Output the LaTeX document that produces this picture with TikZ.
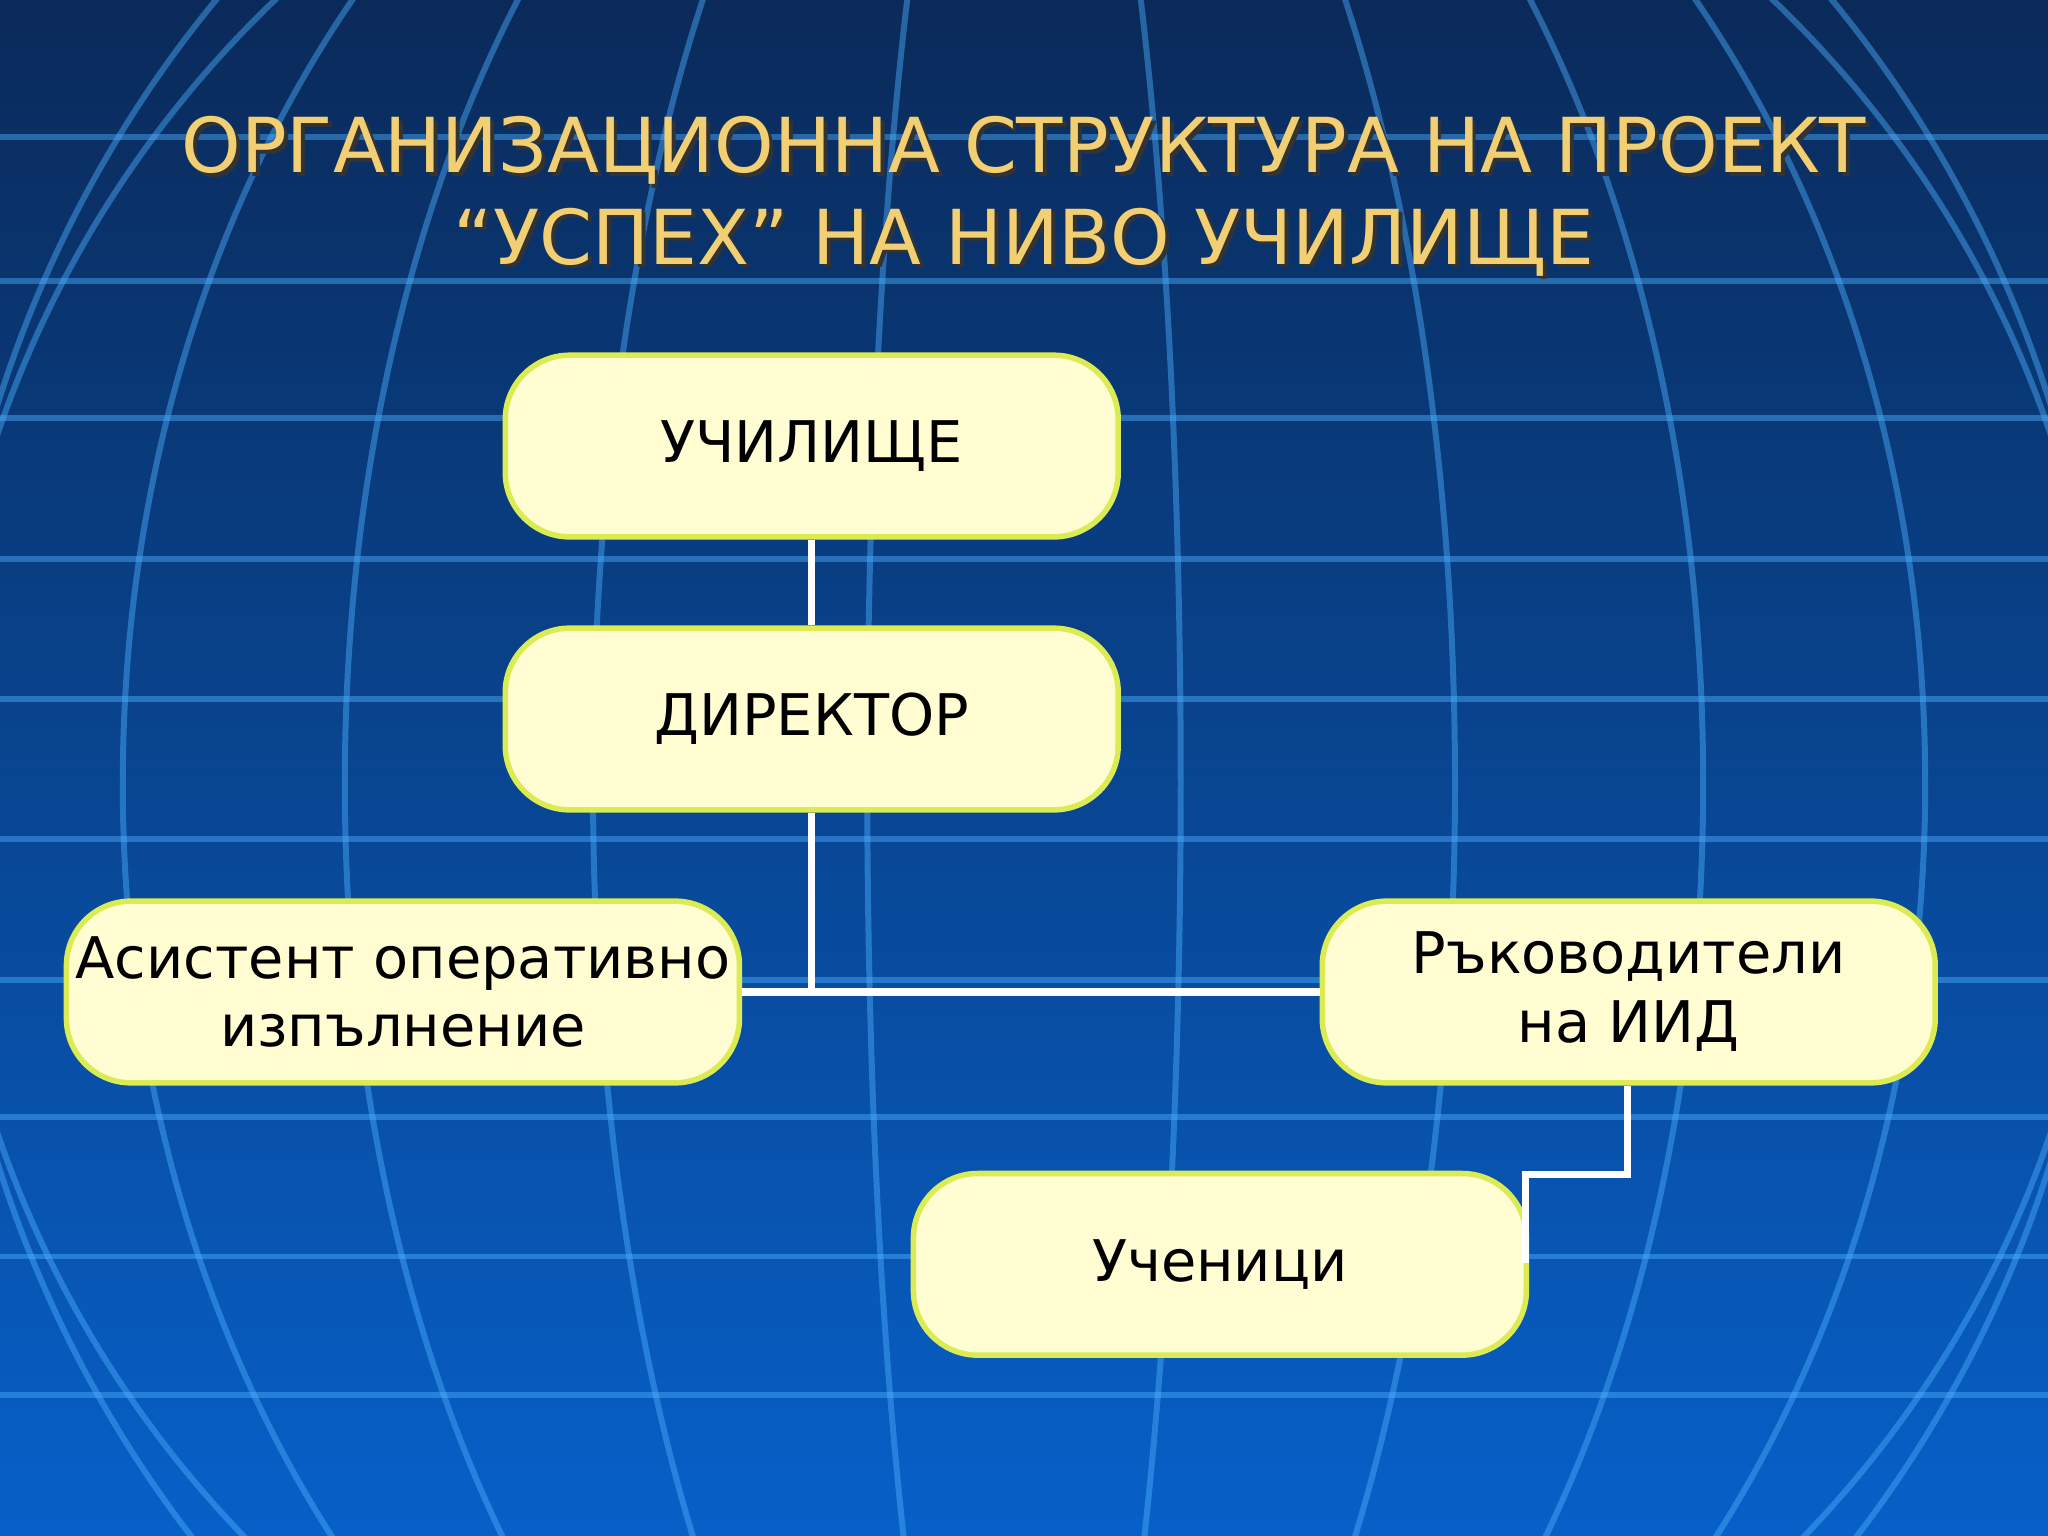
\documentclass[tikz,border=0pt]{standalone}
\usepackage{fontspec}
\setmainfont{DejaVu Sans}
\begin{document}
\begin{tikzpicture}[x=0.01cm,y=-0.01cm,
  box/.style={draw=yellow!80!green!70!white, line width=1.2pt, fill=yellow!18!white, rounded corners=14pt, minimum width=4.69cm, minimum height=1.39cm, align=center, font=\fontsize{12.5}{15}\selectfont, inner sep=2pt},
  conn/.style={draw=white, line width=1.6pt},
  grid/.style={draw=blue!45!cyan!70!white, opacity=0.45, line width=1.3pt}]
\definecolor{topc}{HTML}{0A2A5A}
\definecolor{botc}{HTML}{0760C8}
\definecolor{gold}{HTML}{F2CF73}
\shade[top color=topc, bottom color=botc] (0,0) rectangle (1568,1176);
\useasboundingbox (0,0) rectangle (1568,1176);
\begin{scope}
\clip (0,0) rectangle (1568,1176);
\foreach \y in {105,215,320,428,535,642,750,855,962,1068}
  \draw[grid] (0,\y) -- (1568,\y);
\foreach \r in {120,330,520,690,830}
  \draw[grid] (784,600) ellipse ({\r} and 900);
\draw[grid] (784,600) circle (830);
\end{scope}
% title
\foreach \dx/\dy/\c in {3/3/black!80, 0/0/gold}
  \node[text=\c, align=center, font=\fontsize{16.5}{20}\selectfont] at (784+\dx,150+\dy)
    {ОРГАНИЗАЦИОННА СТРУКТУРА НА ПРОЕКТ\\“УСПЕХ” НА НИВО УЧИЛИЩЕ};
\node[box] (s) at (621.5,341.5) {УЧИЛИЩЕ};
\node[box] (d) at (621.5,550.5) {ДИРЕКТОР};
\node[box] (a) at (308.5,759.5) {Асистент оперативно\\изпълнение};
\node[box] (r) at (1247,759.5) {Ръководители\\ на ИИД};
\node[box] (u) at (934,968) {Ученици};
\draw[conn] (s) -- (d);
\draw[conn] (d.south) -- (621.5,759.5);
\draw[conn] (a.east) -- (r.west);
\draw[conn] (r.south -| 1246,0) |- (1168,899) -- (1168,967);
\end{tikzpicture}
\end{document}
